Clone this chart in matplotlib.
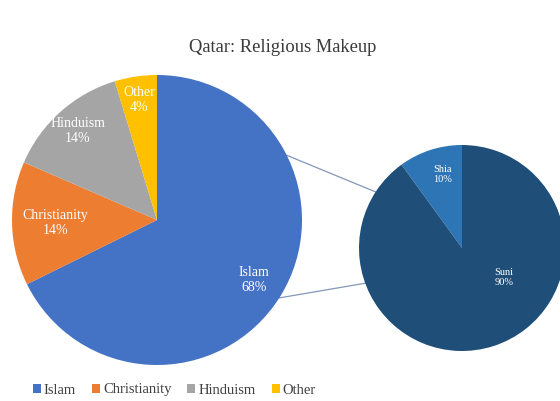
import numpy as np
import matplotlib.pyplot as plt

# Data
religions = ['Islam', 'Christianity', 'Hinduism', 'Other']
shares = [67.7, 13.8, 13.8, 4.7]
shown_pct = ['68%', '14%', '14%', '4%']
rel_colors = ['#4472C4', '#ED7D31', '#A5A5A5', '#FFC000']

sects = ['Shia', 'Suni']
sect_shares = [10, 90]
sect_pct = ['10%', '90%']
sect_colors = ['#2E75B6', '#1F4E79']

W, H = 560, 401
plt.rcParams['font.family'] = ['Liberation Serif', 'DejaVu Serif']

fig = plt.figure(figsize=(W / 100, H / 100), dpi=100)
ax = fig.add_axes([0, 0, 1, 1])

# main pie
c1 = (157, H - 220)
r1 = 145
w1, t1 = ax.pie(shares, labels=[f'{n}\n{p}' for n, p in zip(religions, shown_pct)],
                colors=rel_colors, startangle=90, counterclock=False,
                center=c1, radius=r1, frame=True,
                wedgeprops=dict(linewidth=0),
                textprops=dict(color='white', fontsize=10, linespacing=1.2))
dist1 = [0.79, 0.70, 0.82, 0.84]
for w, t, d in zip(w1, t1, dist1):
    th = np.deg2rad((w.theta1 + w.theta2) / 2)
    t.set_position((c1[0] + d * r1 * np.cos(th), c1[1] + d * r1 * np.sin(th)))
    t.set_ha('center')
    t.set_va('center')

# secondary pie (Islam breakdown)
c2 = (462, H - 248)
r2 = 103
w2, t2 = ax.pie(sect_shares, labels=[f'{n}\n{p}' for n, p in zip(sects, sect_pct)],
                colors=sect_colors, startangle=90, counterclock=True,
                center=c2, radius=r2, frame=True,
                wedgeprops=dict(linewidth=0),
                textprops=dict(color='white', fontsize=7.5, linespacing=1.2))
# (distance, angle) of each label inside the small pie
lab2 = [(0.74, 105), (0.50, -35)]
for t, (d, a) in zip(t2, lab2):
    th = np.deg2rad(a)
    t.set_position((c2[0] + d * r2 * np.cos(th), c2[1] + d * r2 * np.sin(th)))
    t.set_ha('center')
    t.set_va('center')

# connector lines
for a1, a2 in [(26.5, 147), (-32.5, 200)]:
    p1 = (c1[0] + r1 * np.cos(np.deg2rad(a1)), c1[1] + r1 * np.sin(np.deg2rad(a1)))
    p2 = (c2[0] + r2 * np.cos(np.deg2rad(a2)), c2[1] + r2 * np.sin(np.deg2rad(a2)))
    ax.plot([p1[0], p2[0]], [p1[1], p2[1]], color='#8496b8', linewidth=0.9, zorder=0)

ax.set_xlim(0, W)
ax.set_ylim(0, H)
ax.set_aspect('equal')
ax.set_xticks([])
ax.set_yticks([])
for s in ax.spines.values():
    s.set_visible(False)

ax.text(283, H - 48, 'Qatar: Religious Makeup', ha='center', va='center',
        fontsize=13.3, color='#3a3a3a')

leg = ax.legend(w1, religions, loc='center left', bbox_to_anchor=(0.035, 11 / H),
                ncol=4, frameon=False, fontsize=10.5, handlelength=0.55,
                handleheight=0.55, handletextpad=0.2, columnspacing=1.1)
for txt in leg.get_texts():
    txt.set_color('#404040')

fig.savefig('out.png', dpi=100, facecolor='white')
